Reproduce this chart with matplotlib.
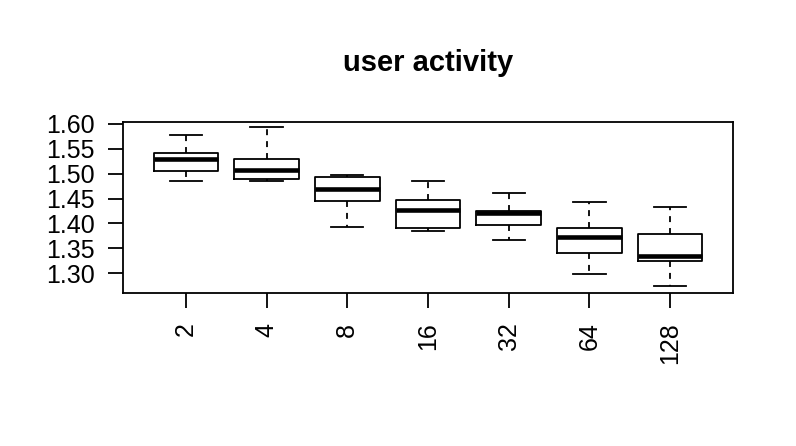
import matplotlib
matplotlib.use("Agg")
import matplotlib.pyplot as plt

plt.rcParams['font.family'] = ['Liberation Sans', 'DejaVu Sans']

categories = ["2", "4", "8", "16", "32", "64", "128"]
whisker_low = [1.486, 1.485, 1.393, 1.384, 1.367, 1.299, 1.274]
q1 = [1.506, 1.489, 1.446, 1.391, 1.397, 1.341, 1.324]
median = [1.529, 1.507, 1.469, 1.426, 1.420, 1.373, 1.335]
q3 = [1.542, 1.529, 1.494, 1.447, 1.424, 1.391, 1.379]
whisker_high = [1.578, 1.593, 1.497, 1.485, 1.461, 1.443, 1.433]
yticks = [1.30, 1.35, 1.40, 1.45, 1.50, 1.55, 1.60]
title = "user activity"

stats = []
for i, c in enumerate(categories):
    stats.append(dict(label=c, whislo=whisker_low[i], q1=q1[i], med=median[i],
                      q3=q3[i], whishi=whisker_high[i], fliers=[]))

fig = plt.figure(figsize=(7.96, 4.46), dpi=100)
ax = fig.add_axes([123/796, 1 - 292.7/446, 610/796, 171/446])

lw = 1.3
ax.bxp(stats, positions=range(1, len(categories) + 1), widths=0.8,
       capwidths=0.4, showfliers=False, patch_artist=False,
       boxprops=dict(color='black', linewidth=lw),
       medianprops=dict(color='black', linewidth=3.3, solid_capstyle='butt'),
       whiskerprops=dict(color='black', linewidth=lw, linestyle=(0, (3.3, 3.3))),
       capprops=dict(color='black', linewidth=lw))

ax.set_xlim(0.22, 7.78)
ax.set_ylim(1.2606, 1.6046)
ax.set_yticks(yticks)
ax.set_yticklabels([f"{v:.2f}" for v in yticks])
ax.set_xticks(range(1, len(categories) + 1))
ax.set_xticklabels(categories, rotation=90)

for s in ax.spines.values():
    s.set_linewidth(1.3)
ax.tick_params(axis='both', length=10.5, width=1.3, labelsize=18, pad=10)
ax.tick_params(axis='x', pad=11)

fig.text(428/796, 1 - 63/446, title, ha='center', va='center',
         fontsize=21, fontweight='bold')

fig.savefig("out.png", dpi=100)
